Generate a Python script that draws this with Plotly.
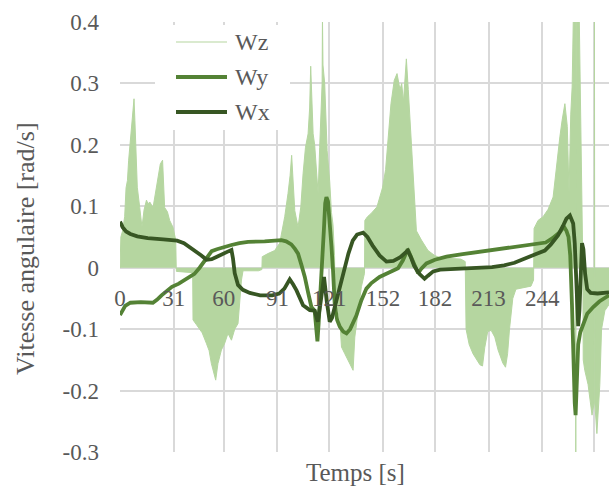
import plotly.graph_objects as go

# ---- data: angular velocity components [rad/s] versus time [s] ----
# Wz: envelope of the fast-oscillating z component
t_wz = [0, 0.5, 1.5, 2.7, 3.5, 4.3, 5.0, 5.6, 6.3, 7.0, 7.6, 8.1, 8.6, 9.1, 10.0, 11.4, 12.7,
        13.9, 15.3, 16.2, 17.2, 19.1, 20.4, 22.0, 23.3, 24.6, 25.4, 25.8, 27.4, 28.7, 30.6,
        32.2, 32.5, 32.6, 42.0, 42.2, 44.0, 46.0, 47.5, 49.9, 51.5, 52.8, 54.3, 55.3, 56.6,
        58.6, 60.5, 62.4, 64.4, 66.3, 68.2, 70.2, 71.1, 80.0, 82.0, 82.2, 85.5, 89.4, 92.3,
        93.3, 95.2, 97.1, 98.3, 99.2, 100.0, 101.0, 102.9, 104.5, 105.8, 107.2, 108.7, 109.6,
        110.2, 111.0, 111.6, 112.5, 113.5, 114.5, 115.4, 116.4, 116.8, 117.0, 117.3, 118.3,
        119.7, 121.2, 122.2, 123.1, 124.0, 124.2, 125.1, 127.0, 128.0, 129.9, 131.8, 133.8,
        134.7, 135.7, 137.5, 139.5, 141.3, 141.5, 143.0, 145.0, 148.5, 151.8, 153.5, 154.8,
        156.6, 158.5, 160.1, 161.8, 162.8, 163.8, 165.5, 166.6, 168.0, 169.4, 171.3, 174.2,
        178.0, 181.8, 185.0, 197.0, 199.5, 200.0, 201.8, 204.0, 206.0, 208.0, 209.5, 210.8,
        212.5, 214.5, 216.6, 218.5, 221.2, 222.8, 224.0, 225.1, 227.0, 228.8, 237.5, 239.0,
        239.3, 241.6, 244.5, 247.4, 250.3, 252.3, 254.2, 255.5, 257.1, 258.5, 259.5, 260.5,
        261.3, 262.0, 263.2, 263.4, 263.6, 265.4, 266.2, 267.0, 267.5, 267.7, 268.6, 270.5,
        272.8, 274.0, 274.2, 274.4, 275.6, 276.5, 277.3, 278.3, 280.2, 282.6]
wz = [0, 0.05, 0.06, 0.083, 0.13, 0.142, 0.175, 0.196, 0.215, 0.234, 0.26, 0.275, 0.24, 0.196,
      0.131, 0.098, 0.066, 0.094, 0.11, 0.104, 0.107, 0.098, 0.121, 0.153, 0.169, 0.175, 0.12,
      0.098, 0.091, 0.077, 0.066, 0.045, 0, -0.006, -0.008, -0.085, -0.092, -0.1, -0.106,
      -0.123, -0.135, -0.156, -0.17, -0.183, -0.156, -0.134, -0.123, -0.107, -0.118, -0.1,
      -0.091, -0.02, -0.005, -0.005, -0.003, 0.018, 0.023, 0.028, 0.04, 0.056, 0.083, 0.121,
      0.15, 0.183, 0.142, 0.093, 0.066, 0.099, 0.153, 0.196, 0.218, 0.26, 0.328, 0.267, 0.218,
      0.2, 0.155, 0.12, 0.196, 0.272, 0.3, 0.41, 0.33, 0.3, 0.191, 0.14, 0.09, 0.07, 0.02,
      -0.04, -0.058, -0.085, -0.129, -0.14, -0.15, -0.161, -0.167, -0.113, -0.07, -0.031,
      -0.009, 0.077, 0.083, 0.088, 0.099, 0.131, 0.16, 0.2, 0.267, 0.305, 0.316, 0.29, 0.3,
      0.27, 0.34, 0.29, 0.22, 0.14, 0.06, 0.045, 0.028, 0.02, 0.016, 0.014, 0.01, -0.1,
      -0.125, -0.14, -0.15, -0.158, -0.16, -0.13, -0.104, -0.102, -0.113, -0.134, -0.155,
      -0.162, -0.14, -0.1, -0.05, -0.035, -0.03, -0.02, 0.064, 0.077, 0.083, 0.095, 0.115,
      0.17, 0.213, 0.24, 0.267, 0.23, 0.12, 0.25, 0.294, 0.41, 0.41, -0.31, 0.41, 0.41, 0.26,
      0.15, 0.0, -0.15, -0.167, -0.19, -0.24, -0.22, 0.41, -0.22, -0.27, -0.23, -0.19, -0.1,
      -0.07, -0.06]

# Wy
t_wy = [0, 1.5, 3, 6, 12, 19, 21.5, 24, 27, 30, 34, 37.4, 43, 46, 49, 51, 53, 56, 60, 64.4,
        69, 74, 83.6, 90, 93.3, 96, 99, 101, 102.9, 104.8, 106.8, 108.7, 110.6, 112.5, 113.5,
        114.1, 114.8, 116.4, 117.8, 118.6, 119.3, 120.2, 121.2, 122.2, 123.1, 124.1, 125.5,
        127, 129, 130.9, 133, 134.7, 136.6, 139.5, 142.4, 145.3, 150, 153, 157, 160.7, 163.5,
        166.3, 167.5, 169.4, 171.2, 172.3, 174, 177.1, 182, 188.7, 198, 208, 218, 227.2, 237,
        246, 250, 254.2, 256.5, 258, 259.2, 260.2, 261.2, 262, 262.8, 263.3, 264, 264.8, 266,
        267.8, 270, 273.5, 277, 282.6]
wy = [-0.077, -0.068, -0.062, -0.057, -0.056, -0.057, -0.052, -0.045, -0.038, -0.031, -0.026,
      -0.02, -0.01, 0.0, 0.012, 0.021, 0.027, 0.03, 0.034, 0.037, 0.04, 0.042, 0.043, 0.044,
      0.045, 0.043, 0.038, 0.031, 0.023, 0.005, -0.015, -0.04, -0.064, -0.07, -0.1, -0.12,
      -0.09, -0.02, 0.06, 0.105, 0.115, 0.108, 0.077, 0.035, -0.004, -0.06, -0.085, -0.096,
      -0.104, -0.107, -0.1, -0.091, -0.078, -0.053, -0.034, -0.025, -0.015, -0.011, -0.006,
      -0.001, 0.012, 0.03, 0.022, 0.009, -0.003, -0.009, -0.002, 0.007, 0.013, 0.018, 0.022,
      0.026, 0.03, 0.034, 0.037, 0.041, 0.048, 0.058, 0.067, 0.06, 0.05, 0.02, -0.06, -0.16,
      -0.22, -0.24, -0.17, -0.125, -0.105, -0.09, -0.075, -0.064, -0.055, -0.045]

# Wx
t_wx = [0, 1.5, 3.5, 6, 10, 16, 25, 33, 37, 43, 47, 50, 53, 56, 61, 64.4, 65.3, 66.3, 68.2,
        71, 75, 81, 88, 92, 95, 98.1, 100, 102, 105.8, 109.7, 112.5, 114.3, 116, 117.9, 119.5,
        121.2, 122.5, 124, 126, 128, 130, 132, 134.5, 137, 140.5, 143, 146, 150, 154, 158, 162,
        166.3, 168, 170, 173, 176, 178, 181, 185, 195, 205, 215, 222, 228, 234, 240, 245.5,
        249, 253.2, 256, 258, 260, 261.9, 262.8, 263.4, 264, 264.8, 265.5, 266.2, 267, 267.8,
        268.8, 270, 272, 276, 282.6]
wx = [0.075, 0.066, 0.059, 0.055, 0.051, 0.048, 0.046, 0.044, 0.04, 0.029, 0.02, 0.013, 0.014,
      0.018, 0.024, 0.029, 0.015, -0.009, -0.028, -0.036, -0.041, -0.045, -0.045, -0.042,
      -0.034, -0.019, -0.027, -0.037, -0.061, -0.069, -0.07, -0.088, -0.055, -0.015, -0.055,
      -0.088, -0.082, -0.065, -0.042, -0.024, 0.0, 0.023, 0.044, 0.054, 0.057, 0.05, 0.036,
      0.02, 0.01, 0.011, 0.017, 0.028, 0.018, 0.003, -0.01, -0.018, -0.013, -0.006, -0.003,
      -0.002, -0.001, 0.001, 0.004, 0.008, 0.015, 0.022, 0.028, 0.038, 0.053, 0.068, 0.08,
      0.085, 0.072, 0.04, 0.0, -0.07, -0.095, -0.07, 0.0, 0.04, 0.03, -0.01, -0.035, -0.041,
      -0.042, -0.04]

x_ticks = [0, 31, 60, 91, 121, 152, 182, 213, 244, 274]
x_tick_text = [str(v) for v in x_ticks]
y_ticks = [-0.3, -0.2, -0.1, 0, 0.1, 0.2, 0.3, 0.4]
y_tick_text = ["-0.3", "-0.2", "-0.1", "0", "0.1", "0.2", "0.3", "0.4"]

series_names = ["Wz", "Wy", "Wx"]

# ---- styling ----
WZ_COLOR = "rgb(181,214,160)"
WY_COLOR = "#548235"
WX_COLOR = "#375623"
TEXT = "#595959"
GRID = "#d9d9d9"
FONT = "Liberation Serif, DejaVu Serif, serif"

X_MAX = 282.6
Y_MIN, Y_MAX = -0.3, 0.4

fig = go.Figure()
fig.add_trace(go.Scatter(x=t_wz, y=wz, mode="lines", name=series_names[0],
                         line=dict(color=WZ_COLOR, width=1),
                         fill="tozeroy", fillcolor=WZ_COLOR, showlegend=False))
fig.add_trace(go.Scatter(x=t_wy, y=wy, mode="lines", name=series_names[1],
                         line=dict(color=WY_COLOR, width=3.8), showlegend=False))
fig.add_trace(go.Scatter(x=t_wx, y=wx, mode="lines", name=series_names[2],
                         line=dict(color=WX_COLOR, width=3.8), showlegend=False))

W, H = 609, 488
ML, MR, MT, MB = 120, 0, 22, 36
PW, PH = W - ML - MR, H - MT - MB


def px_x(p):
    return (p - ML) / PW


def px_y(p):
    return (H - MB - p) / PH


# hand-placed legend box with line samples
shapes = [dict(type="rect", xref="paper", yref="paper", layer="above",
               x0=px_x(155), x1=px_x(290), y0=px_y(130), y1=px_y(25),
               fillcolor="white", line=dict(width=0))]
annotations = []
legend_items = [(series_names[0], WZ_COLOR, 1.2, 42),
                (series_names[1], WY_COLOR, 3.8, 77),
                (series_names[2], WX_COLOR, 3.8, 112)]
for name, color, width, ypx in legend_items:
    shapes.append(dict(type="line", xref="paper", yref="paper", layer="above",
                       x0=px_x(176), x1=px_x(227), y0=px_y(ypx), y1=px_y(ypx),
                       line=dict(color=color, width=width)))
    annotations.append(dict(text=name, xref="paper", yref="paper", x=px_x(233), y=px_y(ypx),
                            xanchor="left", yanchor="middle", showarrow=False,
                            font=dict(family=FONT, size=24, color=TEXT)))

annotations.append(dict(text="Temps [s]", xref="paper", yref="paper",
                        x=px_x(355), y=px_y(472), xanchor="center", yanchor="middle",
                        showarrow=False, font=dict(family=FONT, size=25, color=TEXT)))
annotations.append(dict(text="Vitesse angulaire [rad/s]", xref="paper", yref="paper",
                        x=px_x(25), y=px_y(249), xanchor="center", yanchor="middle",
                        textangle=-90, showarrow=False,
                        font=dict(family=FONT, size=26, color=TEXT)))

fig.update_layout(
    width=W, height=H,
    margin=dict(l=ML, r=MR, t=MT, b=MB, pad=0),
    paper_bgcolor="white", plot_bgcolor="white",
    font=dict(family=FONT, size=23, color=TEXT),
    showlegend=False,
    shapes=shapes, annotations=annotations,
    xaxis=dict(range=[0, X_MAX], tickmode="array", tickvals=x_ticks, ticktext=x_tick_text,
               showgrid=True, gridcolor=GRID, gridwidth=1.5, zeroline=False,
               showline=False, ticks="", anchor="free", position=(0 - Y_MIN) / (Y_MAX - Y_MIN),
               ticklabelstandoff=14, tickfont=dict(family=FONT, size=23, color=TEXT)),
    yaxis=dict(range=[Y_MIN, Y_MAX], tickmode="array", tickvals=y_ticks, ticktext=y_tick_text,
               showgrid=True, gridcolor=GRID, gridwidth=1.5, zeroline=False,
               showline=False, ticks="", ticklabelstandoff=20,
               tickfont=dict(family=FONT, size=23, color=TEXT)),
)

fig.write_html("out.html")
